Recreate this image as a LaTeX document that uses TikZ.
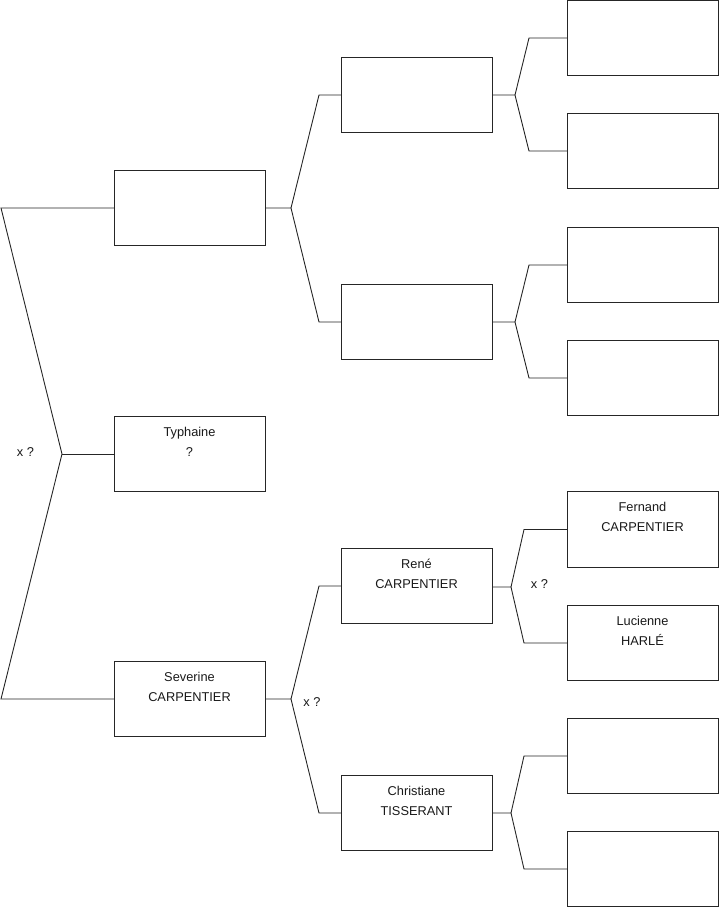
\documentclass[tikz,border=0pt]{standalone}
\usepackage{fontspec}
\setmainfont{Liberation Sans}
\begin{document}
\begin{tikzpicture}[x=1pt,y=-1pt,
  box/.style={draw=black!85, line width=0.9pt, minimum width=151pt, minimum height=75.5pt, inner sep=0pt, outer sep=0pt},
  txt/.style={font={\fontsize{12.8}{20}\selectfont}, align=center, inner sep=0pt, anchor=north, text=black!90},
  conn/.style={draw=black!85, line width=0.9pt},
  xq/.style={font={\fontsize{12.8}{15}\selectfont}, inner sep=0pt, text=black!90}]
\useasboundingbox (0,0) rectangle (719,908);
% column 1
\node[box] (a1) at (189.5,208) {};
\node[box] (a2) at (189.5,454) {};
\node[box] (a3) at (189.5,699) {};
% column 2
\node[box] (b1) at (416.5,95) {};
\node[box] (b2) at (416.5,322) {};
\node[box] (b3) at (416.5,586) {};
\node[box] (b4) at (416.5,813) {};
% column 3
\node[box] (c1) at (642.5,38) {};
\node[box] (c2) at (642.5,151) {};
\node[box] (c3) at (642.5,265) {};
\node[box] (c4) at (642.5,378) {};
\node[box] (c5) at (642.5,529.5) {};
\node[box] (c6) at (642.5,643) {};
\node[box] (c7) at (642.5,756) {};
\node[box] (c8) at (642.5,869) {};
% texts
\node[txt] (t2) at ([yshift=-10pt]a2.north) {\rule{0pt}{10pt}Typhaine\\?};
\node[txt] (t3) at ([yshift=-10pt]a3.north) {\rule{0pt}{10pt}Severine\\CARPENTIER};
\node[txt] (t6) at ([yshift=-10pt]b3.north) {\rule{0pt}{10pt}René\\CARPENTIER};
\node[txt] (t7) at ([yshift=-10pt]b4.north) {\rule{0pt}{10pt}Christiane\\TISSERANT};
\node[txt] (t8) at ([yshift=-10pt]c5.north) {\rule{0pt}{10pt}Fernand\\CARPENTIER};
\node[txt] (t9) at ([yshift=-10pt]c6.north) {\rule{0pt}{10pt}Lucienne\\HARLÉ};
\node[xq] (x1) at (25.5,452) {x ?};
\node[xq] (x2) at (312,702) {x ?};
\node[xq] (x3) at (539.5,584) {x ?};
% fork points
\coordinate (f0) at (62,454);
\coordinate (f1) at (291,208);
\coordinate (f2) at (291,699);
\coordinate (g1) at (515,95);
\coordinate (g2) at (515,322);
\coordinate (g3) at (511,587);
\coordinate (g4) at (511,813);
% left fork (reversed)
\draw[conn] (a1.west) -- (1,208) -- (f0) -- (1,699) -- (a3.west);
\draw[conn] (f0) -- (a2.west);
% col1 -> col2
\draw[conn] (a1.east) -- (f1) -- (319,95) -- (b1.west);
\draw[conn] (f1) -- (319,322) -- (b2.west);
\draw[conn] (a3.east) -- (f2) -- (319,586) -- (b3.west);
\draw[conn] (f2) -- (319,813) -- (b4.west);
% col2 -> col3
\draw[conn] (b1.east) -- (g1) -- (529,38) -- (c1.west);
\draw[conn] (g1) -- (529,151) -- (c2.west);
\draw[conn] (b2.east) -- (g2) -- (529,265) -- (c3.west);
\draw[conn] (g2) -- (529,378) -- (c4.west);
\draw[conn] (b3.east |- g3) -- (g3) -- (524,529.5) -- (c5.west);
\draw[conn] (g3) -- (524,643) -- (c6.west);
\draw[conn] (b4.east) -- (g4) -- (524,756) -- (c7.west);
\draw[conn] (g4) -- (524,869) -- (c8.west);
\end{tikzpicture}
\end{document}
